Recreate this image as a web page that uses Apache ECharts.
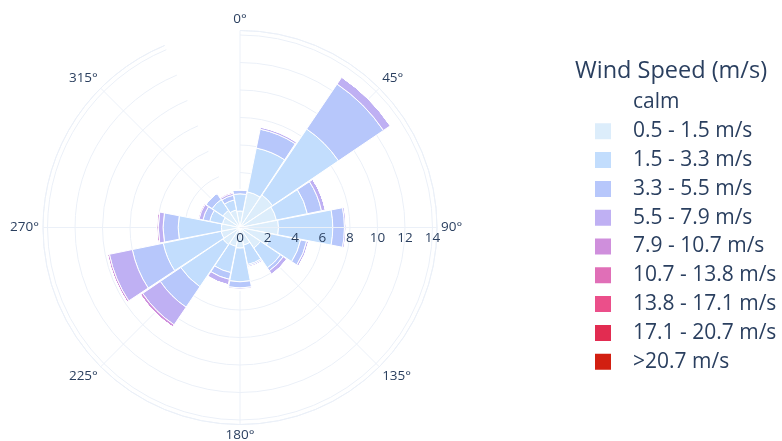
<!DOCTYPE html>
<html>
<head>
<meta charset="utf-8">
<script src="https://cdn.jsdelivr.net/npm/echarts@6/dist/echarts.min.js"></script>
<style>
  html, body { margin: 0; padding: 0; background: #fff; }
  #chart { width: 782px; height: 441px; }
</style>
</head>
<body>
<div id="chart"></div>
<script>
// directions, clockwise from north
var directions = [0, 22.5, 45, 67.5, 90, 112.5, 135, 157.5, 180, 202.5, 225, 247.5, 270, 292.5, 315, 337.5];

var speedBins = ['calm', '0.5 - 1.5 m/s', '1.5 - 3.3 m/s', '3.3 - 5.5 m/s', '5.5 - 7.9 m/s',
    '7.9 - 10.7 m/s', '10.7 - 13.8 m/s', '13.8 - 17.1 m/s', '17.1 - 20.7 m/s', '>20.7 m/s'];

var binColors = ['rgba(255,255,255,0)', '#dcedfb', '#c2ddfd', '#b7c7fb', '#bfb0f3',
    '#cf8fdc', '#e06fb7', '#eb4f8a', '#e22c51', '#d21f11'];

// frequency (%) per direction, one array per speed bin
var calm     = [0, 0, 0, 0, 0, 0, 0, 0, 0, 0, 0, 0, 0, 0, 0, 0];
var s05_15   = [1.2, 2.65, 2.85, 2.7, 2.8, 2.3, 1.8, 1.3, 1.5, 1.4, 1.5, 1.4, 1.35, 1.3, 1.5, 1.3];
var s15_33   = [1.25, 3.25, 5.8, 2.3, 3.95, 2.2, 1.75, 1.45, 2.45, 1.95, 3.7, 4.3, 3.15, 0.95, 0.95, 0.75];
var s33_55   = [0.3, 1.4, 3.95, 1.05, 0.85, 0.45, 0.25, 0.1, 0.45, 0.5, 1.8, 2.3, 1.1, 0.5, 0.55, 0.35];
var s55_79   = [0, 0.15, 0.6, 0.3, 0.12, 0.15, 0.3, 0.1, 0.1, 0.4, 1.55, 1.7, 0.35, 0.3, 0, 0.15];
var s79_107  = [0, 0.03, 0.02, 0, 0.03, 0.02, 0.03, 0.02, 0.04, 0.02, 0.2, 0.15, 0.12, 0.1, 0, 0.1];
var s107_138 = [0, 0, 0, 0, 0, 0, 0, 0, 0, 0, 0, 0, 0, 0, 0, 0];
var s138_171 = [0, 0, 0, 0, 0, 0, 0, 0, 0, 0, 0, 0, 0, 0, 0, 0];
var s171_207 = [0, 0, 0, 0, 0, 0, 0, 0, 0, 0, 0, 0, 0, 0, 0, 0];
var s207     = [0, 0, 0, 0, 0, 0, 0, 0, 0, 0, 0, 0, 0, 0, 0, 0];

var binValues = [calm, s05_15, s15_33, s33_55, s55_79, s79_107, s107_138, s138_171, s171_207, s207];

var rMax = 14.33;
var textColor = '#2a3f5f';
var gridColor = '#ebf0f8';
var font = '"Open Sans", Verdana, Arial, sans-serif';

var series = speedBins.map(function (name, i) {
    return {
        name: name,
        type: 'bar',
        coordinateSystem: 'polar',
        polarIndex: 0,
        stack: 'wind',
        barCategoryGap: '3%',
        data: binValues[i],
        itemStyle: {
            color: binColors[i],
            borderColor: '#fff',
            borderWidth: 1
        },
        emphasis: { disabled: true }
    };
});

var chart = echarts.init(document.getElementById('chart'));
chart.setOption({
    animation: false,
    textStyle: { fontFamily: font },
    title: {
        text: 'Wind Speed (m/s)',
        left: 575,
        top: 59,
        padding: 0,
        textStyle: { color: textColor, fontSize: 23.5, fontWeight: 'normal', fontFamily: font }
    },
    legend: {
        orient: 'vertical',
        left: 588,
        top: 87,
        itemWidth: 18,
        itemHeight: 18,
        itemGap: 7.8,
        icon: 'rect',
        data: speedBins,
        textStyle: { color: textColor, fontSize: 21, lineHeight: 20, fontFamily: font, padding: [0, 0, 0, 16] }
    },
    polar: [
        { center: [240, 227.5], radius: 197 },
        { center: [240, 227.5], radius: 197 }
    ],
    angleAxis: [{
        polarIndex: 0,
        type: 'category',
        data: directions,
        boundaryGap: false,
        startAngle: 90,
        clockwise: true,
        axisLine: { lineStyle: { color: gridColor, width: 1 } },
        axisTick: { show: false },
        axisLabel: {
            interval: 1,
            margin: 4,
            color: textColor,
            fontSize: 13.5,
            formatter: function (v) { return v + '°'; }
        },
        splitLine: { show: true, interval: 1, lineStyle: { color: gridColor, width: 1 } }
    }, {
        polarIndex: 1,
        type: 'value',
        min: 0,
        max: 360,
        startAngle: 0,
        show: false
    }],
    radiusAxis: [{
        polarIndex: 0,
        min: 0,
        max: rMax,
        interval: 2,
        axisLine: { show: false },
        axisTick: { show: false },
        axisLabel: { show: false },
        splitLine: { show: true, lineStyle: { color: gridColor, width: 1 } }
    }, {
        polarIndex: 1,
        min: 0,
        max: rMax,
        interval: 2,
        axisLine: { show: true, lineStyle: { color: gridColor } },
        axisTick: { show: false },
        splitLine: { show: false },
        axisLabel: {
            color: textColor,
            fontSize: 13.5,
            margin: -4,
            verticalAlign: 'top',
            formatter: function (v) { return v % 2 === 0 ? String(v) : ''; }
        },
        z: 10
    }],
    series: series
});
</script>
</body>
</html>
